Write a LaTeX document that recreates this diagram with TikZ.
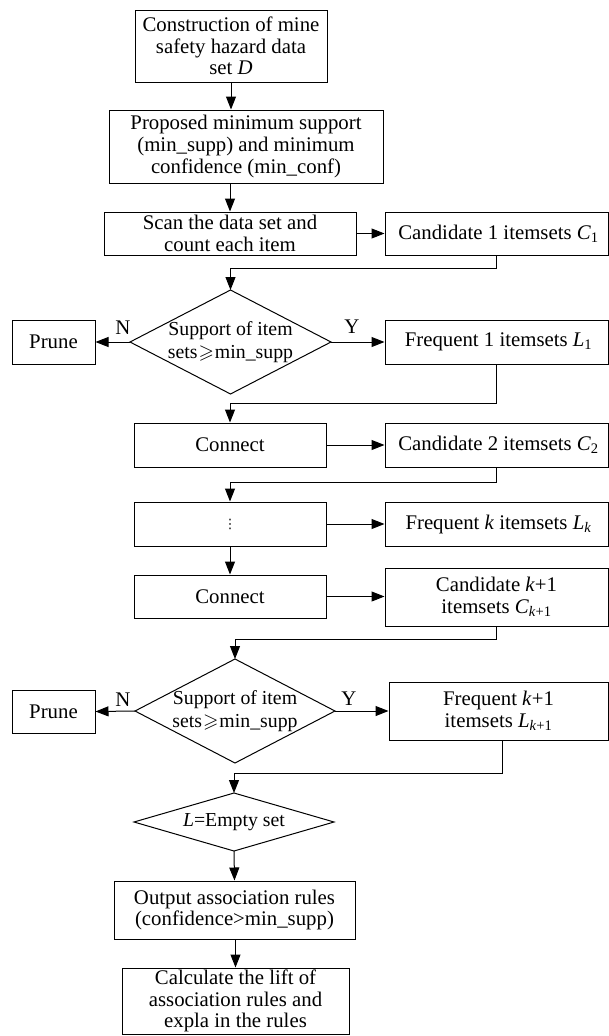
\documentclass[tikz,border=0pt]{standalone}
\usepackage{fontspec}
\setmainfont{Liberation Serif}
\newfontfamily\symfont{DejaVu Sans}
\usepackage{amssymb}
\usetikzlibrary{arrows.meta,calc}
\newcommand{\ital}[1]{\textit{#1}}
\newcommand{\geqsym}{\kern1pt$\geqslant$\kern1pt}
% \diam{name}{cx}{cy}{half width}{half height}{text}
\newcommand{\diam}[6]{%
  \node[dtext] (#1) at (#2,#3) {#6};
  \coordinate (#1-n) at (#2,#3-#5);
  \coordinate (#1-s) at (#2,#3+#5);
  \coordinate (#1-w) at (#2-#4,#3);
  \coordinate (#1-e) at (#2+#4,#3);
  \draw (#1-n) -- (#1-e) -- (#1-s) -- (#1-w) -- cycle;}
\begin{document}
\begin{tikzpicture}[x=1pt,y=-1pt,
  font=\fontsize{20.8}{21.7}\selectfont,
  line width=1pt,
  box/.style={draw, rectangle, inner sep=0pt, align=center},
  dtext/.style={inner sep=0pt, align=center, font=\fontsize{19.8}{22.8}\selectfont},
  arr/.style={-{Triangle[length=13pt,width=10pt]}},
  lbl/.style={inner sep=0pt}]
\useasboundingbox (0,0) rectangle (609,1036);

\node[box, minimum width=192pt, minimum height=72pt] (b1) at (231,46)
  {Construction of mine\\safety hazard data\\set \ital{D}};
\node[box, minimum width=274pt, minimum height=73pt] (b2) at (246,146.5)
  {Proposed minimum support\\(min\_supp) and minimum\\confidence (min\_conf)};
\node[box, minimum width=252pt, minimum height=43pt] (b3) at (230,233.5)
  {Scan the data set and\\count each item};
\node[box, minimum width=223pt, minimum height=43pt] (c1) at (496.5,233.5)
  {\hspace{4pt}Candidate 1 itemsets \ital{C}\textsubscript{1}};
\diam{d1}{230.5}{342}{100.5}{52}{Support of item\\sets\geqsym min\_supp}
\node[box, minimum width=83pt, minimum height=44pt] (p1) at (53.5,342) {Prune};
\node[box, minimum width=223pt, minimum height=44pt] (l1) at (496.5,342)
  {\hspace{4pt}Frequent 1 itemsets \ital{L}\textsubscript{1}};
\node[box, minimum width=192pt, minimum height=44pt] (cn1) at (230,445) {Connect};
\node[box, minimum width=223pt, minimum height=44pt] (c2) at (496.5,445)
  {\hspace{4pt}Candidate 2 itemsets \ital{C}\textsubscript{2}};
\node[box, minimum width=192pt, minimum height=44pt] (dt) at (230,524)
  {\symfont\fontsize{13}{13}\selectfont ⋮};
\node[box, minimum width=223pt, minimum height=44pt] (lk) at (496.5,524)
  {\hspace{4pt}Frequent \ital{k} itemsets \ital{L}\textsubscript{\ital{k}}};
\node[box, minimum width=192pt, minimum height=43pt] (cn2) at (230,596.5) {Connect};
\node[box, minimum width=223pt, minimum height=58pt] (ck1) at (496.5,597)
  {Candidate \ital{k}+1\\itemsets \ital{C}\textsubscript{\ital{k}+1}};
\diam{d2}{235}{711}{100}{52}{Support of item\\sets\geqsym min\_supp}
\node[box, minimum width=83pt, minimum height=43pt] (p2) at (53.5,711.5) {Prune};
\node[box, minimum width=219pt, minimum height=58pt] (lk1) at (498.5,711)
  {Frequent \ital{k}+1\\itemsets \ital{L}\textsubscript{\ital{k}+1}};
\diam{d3}{234}{822}{100}{29}{\ital{L}=Empty set}
\node[box, minimum width=241pt, minimum height=58pt] (out) at (234.5,910)
  {Output association rules\\(confidence>min\_supp)};
\node[box, minimum width=227pt, minimum height=66pt] (calc) at (235.5,1001)
  {Calculate the lift of\\association rules and\\expla in the rules};

\draw[arr] (b1.south) -- (b1.south |- b2.north);
\draw[arr] (b2.south -| b3.north) -- (b3.north);
\draw[arr] (b3.east) -- (c1.west);
\draw[arr] (c1.south) -- ++(0,13) -| (d1-n);
\draw[arr] (d1-w) -- (p1.east);
\draw[arr] (d1-e) -- (l1.west);
\node[lbl] (n1) at (123,328) {N};
\node[lbl] (y1) at (352,327) {Y};
\draw[arr] (l1.south) -- ++(0,39) -| (cn1.north);
\draw[arr] (cn1.east) -- (c2.west);
\draw[arr] (c2.south) -- ++(0,15) -| (dt.north);
\draw[arr] (dt.east) -- (lk.west);
\draw[arr] (dt.south) -- (cn2.north);
\draw[arr] (cn2.east) -- (cn2.east -| ck1.west);
\draw[arr] (ck1.south) -- ++(0,13) -| (d2-n);
\draw[arr] (d2-w) -- (p2.east);
\draw[arr] (d2-e) -- (lk1.west);
\node[lbl] (n2) at (123,700) {N};
\node[lbl] (y2) at (349,699) {Y};
\draw[arr] ($(lk1.south)+(3.5,0)$) coordinate (lk1s) -- ++(0,33) -| (d3-n);
\draw[arr] (d3-s) -- (out.north);
\draw[arr] (out.south -| calc.north) -- (calc.north);
\end{tikzpicture}
\end{document}
